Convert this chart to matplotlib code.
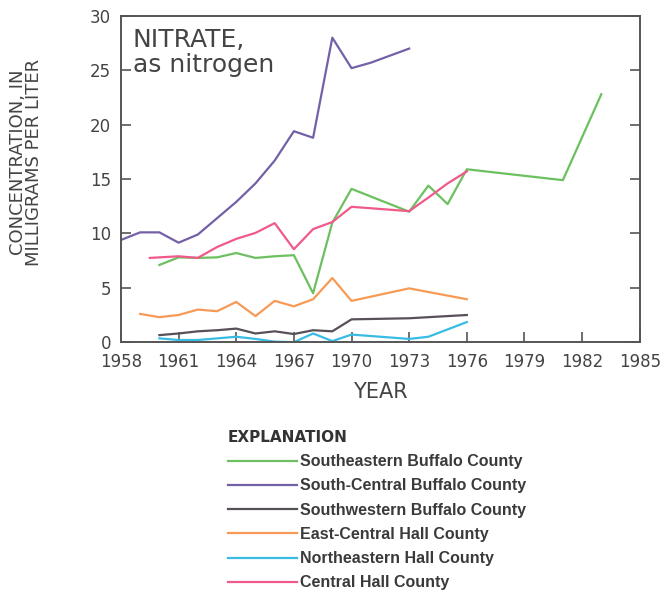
import matplotlib
matplotlib.use("Agg")
import matplotlib.pyplot as plt

# data
yrsSE = [1960, 1961, 1962, 1963, 1964, 1965, 1966, 1967, 1968, 1969, 1970, 1973, 1974, 1975, 1976, 1981, 1983]
valSE = [7.1, 7.8, 7.75, 7.8, 8.2, 7.75, 7.9, 8.0, 4.5, 11.0, 14.1, 12.0, 14.4, 12.7, 15.9, 14.9, 22.8]

yrsSC = [1958, 1959, 1960, 1961, 1962, 1963, 1964, 1965, 1966, 1967, 1968, 1969, 1970, 1971, 1973]
valSC = [9.4, 10.1, 10.1, 9.15, 9.9, 11.4, 12.9, 14.6, 16.7, 19.4, 18.8, 28.0, 25.2, 25.7, 27.0]

yrsSW = [1960, 1961, 1962, 1963, 1964, 1965, 1966, 1967, 1968, 1969, 1970, 1973, 1976]
valSW = [0.65, 0.8, 1.0, 1.1, 1.25, 0.8, 1.0, 0.75, 1.1, 1.0, 2.1, 2.2, 2.5]

yrsEC = [1959, 1960, 1961, 1962, 1963, 1964, 1965, 1966, 1967, 1968, 1969, 1970, 1973, 1976]
valEC = [2.6, 2.3, 2.5, 3.0, 2.85, 3.7, 2.4, 3.8, 3.3, 3.95, 5.9, 3.8, 4.95, 3.95]

yrsNE = [1960, 1961, 1962, 1964, 1965, 1966, 1967, 1968, 1969, 1970, 1973, 1974, 1976]
valNE = [0.35, 0.2, 0.2, 0.5, 0.3, 0.05, 0.0, 0.8, 0.1, 0.7, 0.3, 0.5, 1.85]

yrsCH = [1959.5, 1961, 1962, 1963, 1964, 1965, 1966, 1967, 1968, 1969, 1970, 1973, 1974, 1975, 1976]
valCH = [7.75, 7.9, 7.75, 8.75, 9.5, 10.05, 10.95, 8.55, 10.4, 11.05, 12.45, 12.05, 13.3, 14.6, 15.7]

names = ["Southeastern Buffalo County", "South-Central Buffalo County",
         "Southwestern Buffalo County", "East-Central Hall County",
         "Northeastern Hall County", "Central Hall County"]
colors = ["#6cc060", "#7460a8", "#585058", "#f69a56", "#38bce4", "#f05a8a"]

xticks = list(range(1958, 1986, 3))
yticks = [0, 5, 10, 15, 20, 25, 30]

fig = plt.figure(figsize=(6.72, 5.91), dpi=100)
ax = fig.add_axes([0.18, 0.421, 0.772, 0.552])

series = [(yrsSE, valSE), (yrsSC, valSC), (yrsSW, valSW),
          (yrsEC, valEC), (yrsNE, valNE), (yrsCH, valCH)]
order = [2, 4, 3, 0, 5, 1]   # bottom lines first
lines = {}
for i in order:
    x, y = series[i]
    ln, = ax.plot(x, y, color=colors[i], linewidth=1.6, label=names[i])
    lines[i] = ln
handles = [lines[i] for i in range(6)]

ax.set_xlim(1958, 1985)
ax.set_ylim(0, 30)
ax.set_xticks(xticks)
ax.set_yticks(yticks)
ax.tick_params(direction="in", length=7, width=1.2, color="#555555",
               labelsize=12, labelcolor="#444444", right=True)
ax.tick_params(axis="x", pad=8)
ax.tick_params(axis="y", pad=7)
for s in ax.spines.values():
    s.set_color("#555555")
    s.set_linewidth(1.4)

ax.text(0.023, 0.905, "NITRATE,", transform=ax.transAxes, fontsize=18,
        color="#444444", va="baseline", ha="left")
ax.text(0.023, 0.828, "as nitrogen", transform=ax.transAxes, fontsize=18,
        color="#444444", va="baseline", ha="left")

ax.set_xlabel("YEAR", fontsize=15, color="#444444", labelpad=8)
ax.set_ylabel("CONCENTRATION, IN\nMILLIGRAMS PER LITER", fontsize=13,
              color="#444444", linespacing=0.85)
ax.yaxis.set_label_coords(-0.150, 0.552)

leg = fig.legend(handles=handles, labels=names, loc="upper left",
                 bbox_to_anchor=(0.318, 0.297), frameon=False,
                 title="EXPLANATION", handlelength=4.3, handletextpad=0.2,
                 labelspacing=0.58, alignment="left",
                 prop={"family": "Liberation Sans", "weight": "bold", "size": 11.5})
leg.get_title().set_fontweight("bold")
leg.get_title().set_fontsize(11)
leg.get_title().set_color("#333333")
for t in leg.get_texts():
    t.set_color("#3a3a3a")

fig.savefig("out.png", dpi=100)
